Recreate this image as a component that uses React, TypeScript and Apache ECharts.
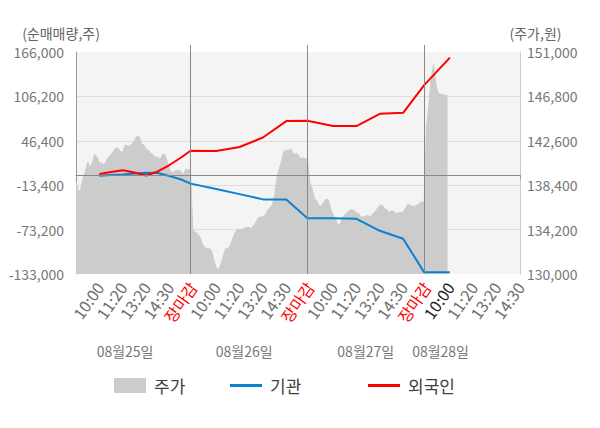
import React, { useEffect, useRef } from "react";
import * as echarts from "echarts";

const FONT = "'Noto Sans CJK KR', 'Noto Sans', sans-serif";

// x axis: 19 label slots, 10 points per slot
const POINTS = 191;
const categories: string[] = Array.from({ length: POINTS }, (_, i) => `p${i}`);
const tickLabels = ["10:00", "11:20", "13:20", "14:30", "장마감"];
const days = ["08월25일", "08월26일", "08월27일", "08월28일"];
const dateLabelIdx = [21, 72, 124, 156];
const dayEndIdx = [49, 99, 149];
const axisTickIdx = [0, 49, 99, 149, 190];
const currentIdx = 160;

// 주가 (price), one value per point
const priceDay1 = [
  138700, 137800, 138000, 139100, 139700, 140600, 140100, 140500, 141300, 141100,
  140500, 140500, 140300, 140700, 141100, 141300, 141600, 141900, 141900, 141600,
  141500, 142200, 142100, 142100, 142300, 142600, 143000, 143000, 142300, 142200,
  141800, 141700, 141400, 141300, 141000, 141100, 140800, 141300, 141300, 140700,
  139900, 139600, 139700, 139800, 139800, 139700, 139400, 139900, 139900, 139800,
];
const priceDay2 = [
  134200, 134000, 133800, 133500, 132900, 132500, 132400, 132400, 132200, 131300,
  130600, 130400, 130900, 131700, 132400, 132400, 132700, 133300, 133900, 134200,
  134200, 134200, 134300, 134400, 134400, 134300, 134600, 134900, 135300, 135400,
  135400, 135600, 136000, 136300, 136500, 137500, 139100, 140000, 140700, 141600,
  141700, 141700, 141800, 141300, 141400, 141300, 140900, 141000, 140900, 140900,
];
const priceDay3 = [
  138700, 138100, 137200, 136900, 136500, 136400, 136800, 137100, 137000, 136200,
  135600, 135300, 134600, 134700, 135300, 135600, 135800, 136000, 136100, 136000,
  135800, 135700, 135400, 135400, 135500, 135500, 135400, 135700, 135900, 136200,
  136500, 136500, 136200, 136100, 135800, 136000, 135900, 135700, 135800, 135800,
  135900, 136200, 136600, 136500, 136400, 136400, 136500, 136700, 136800, 136800,
];
const priceDay4 = [143900, 146000, 148500, 149800, 147900, 147100, 147000, 147000, 146900, 146900];

// 기관 / 외국인 net buying (shares)
const flowIdx = [10, 15, 20, 25, 30, 35, 40, 45, 49, 60, 70, 80, 90, 99, 110, 120, 130, 140, 149, 160];
const instValues = [
  -600, 400, 1100, 2400, 3300, 3100, -1000, -5700, -11300,
  -18400, -25400, -32500, -32500, -57800,
  -57800, -58700, -74800, -85600, -130800, -130800,
];
const foreignValues = [
  1700, 4400, 6700, 3700, -300, 5100, 13800, 23900, 33000,
  32600, 38000, 50800, 72900, 73300,
  66200, 66200, 82700, 84100, 121300, 158500,
];

const priceValues = [...priceDay1, ...priceDay2, ...priceDay3, ...priceDay4];

const fmt = (v: number) => v.toLocaleString("en-US");

export default function App() {
  const ref = useRef<HTMLDivElement>(null);
  useEffect(() => {
    if (!ref.current) return;
    const chart = echarts.init(ref.current, undefined, { renderer: "svg" });
    const legendText = { fontSize: 17, color: "#404040", fontFamily: FONT, padding: [0, 0, 0, 3] };
    const legendBase = { padding: 0, top: 377, icon: "rect", itemWidth: 32, textStyle: legendText };
    chart.setOption({
      animation: false,
      backgroundColor: "#ffffff",
      textStyle: { fontFamily: FONT },
      grid: {
        left: 76,
        right: 80,
        top: 52,
        bottom: 154,
        show: true,
        backgroundColor: "#f4f4f4",
        borderWidth: 0,
      },
      legend: [
        { ...legendBase, data: ["주가"], left: 114, itemHeight: 15 },
        { ...legendBase, data: ["기관"], left: 230, itemHeight: 3 },
        { ...legendBase, data: ["외국인"], left: 368, itemHeight: 3 },
      ],
      xAxis: [
        {
          type: "category",
          data: categories,
          boundaryGap: false,
          position: "bottom",
          axisLine: { show: true, lineStyle: { color: "#999" } },
          axisTick: {
            show: true,
            interval: (i: number) => axisTickIdx.includes(i),
            length: 4,
            lineStyle: { color: "#999" },
          },
          axisLabel: {
            interval: (i: number) => i > 0 && i % 10 === 0,
            rotate: 55,
            margin: 10,
            fontSize: 16,
            color: "#6f6f6f",
            fontFamily: FONT,
            formatter: (_v: string, i: number) => {
              const lbl = tickLabels[(i / 10 - 1) % 5];
              if (lbl === "장마감") return `{red|${lbl}}`;
              if (i === currentIdx) return `{dark|${lbl}}`;
              return lbl;
            },
            rich: {
              red: { color: "#ff0000", fontSize: 16, fontFamily: FONT },
              dark: { color: "#222", fontSize: 16, fontFamily: FONT },
            },
          },
          splitLine: { show: false },
        },
        {
          type: "category",
          data: categories,
          boundaryGap: false,
          position: "bottom",
          offset: 70,
          axisLine: { show: false },
          axisTick: { show: false },
          axisLabel: {
            interval: (i: number) => dateLabelIdx.includes(i),
            margin: 0,
            fontSize: 14,
            color: "#777",
            fontFamily: FONT,
            formatter: (_v: string, i: number) => days[dateLabelIdx.indexOf(i)] ?? "",
          },
          splitLine: { show: false },
        },
        {
          type: "category",
          data: categories,
          boundaryGap: false,
          position: "top",
          axisLine: { show: false },
          axisTick: {
            show: true,
            interval: (i: number) => dayEndIdx.includes(i),
            length: 7,
            lineStyle: { color: "#888" },
          },
          axisLabel: { show: false },
          splitLine: { show: false },
        },
      ],
      yAxis: [
        {
          type: "value",
          position: "left",
          min: -133000,
          max: 166000,
          interval: 59800,
          name: "(순매매량,주)",
          nameLocation: "end",
          nameGap: 12,
          nameTextStyle: { color: "#666", fontSize: 14, fontFamily: FONT, align: "center", padding: [0, 30, 0, 0] },
          axisLine: { show: true, lineStyle: { color: "#999" } },
          axisTick: { show: false },
          axisLabel: { formatter: fmt, color: "#777", fontSize: 14, margin: 12, fontFamily: FONT },
          splitLine: { show: true, showMaxLine: false, showMinLine: false, lineStyle: { color: "#dddddd" } },
        },
        {
          type: "value",
          position: "right",
          min: 130000,
          max: 151000,
          interval: 4200,
          name: "(주가,원)",
          nameLocation: "end",
          nameGap: 12,
          nameTextStyle: { color: "#666", fontSize: 14, fontFamily: FONT, align: "center", padding: [0, 0, 0, 31] },
          axisLine: { show: true, lineStyle: { color: "#cccccc" } },
          axisTick: { show: false },
          axisLabel: { formatter: fmt, color: "#777", fontSize: 14, margin: 7, fontFamily: FONT },
          splitLine: { show: false },
        },
      ],
      series: [
        {
          name: "주가",
          type: "line",
          xAxisIndex: 0,
          yAxisIndex: 1,
          data: priceValues,
          symbol: "none",
          lineStyle: { width: 1, color: "#cccccc" },
          itemStyle: { color: "#cccccc" },
          areaStyle: { color: "#cccccc", opacity: 1 },
          z: 1,
          markLine: {
            silent: true,
            symbol: ["none", "none"],
            label: { show: false },
            lineStyle: { color: "#888", width: 1, type: "solid" },
            data: dayEndIdx.map((i) => ({ xAxis: categories[i] })),
          },
        },
        {
          name: "기관",
          type: "line",
          xAxisIndex: 0,
          yAxisIndex: 0,
          data: flowIdx.map((i, k) => [i, instValues[k]]),
          symbol: "none",
          lineStyle: { width: 2, color: "#0a82d0" },
          itemStyle: { color: "#0a82d0" },
          z: 3,
          markLine: {
            silent: true,
            symbol: ["none", "none"],
            label: { show: false },
            lineStyle: { color: "#888", width: 1, type: "solid" },
            data: [{ yAxis: 0 }],
          },
        },
        {
          name: "외국인",
          type: "line",
          xAxisIndex: 0,
          yAxisIndex: 0,
          data: flowIdx.map((i, k) => [i, foreignValues[k]]),
          symbol: "none",
          lineStyle: { width: 2, color: "#ff0000" },
          itemStyle: { color: "#ff0000" },
          z: 4,
        },
      ],
    });
    return () => chart.dispose();
  }, []);
  return (
    <div
      ref={ref}
      style={{ position: "fixed", left: 0, top: 0, width: 600, height: 428, background: "#fff" }}
    />
  );
}
